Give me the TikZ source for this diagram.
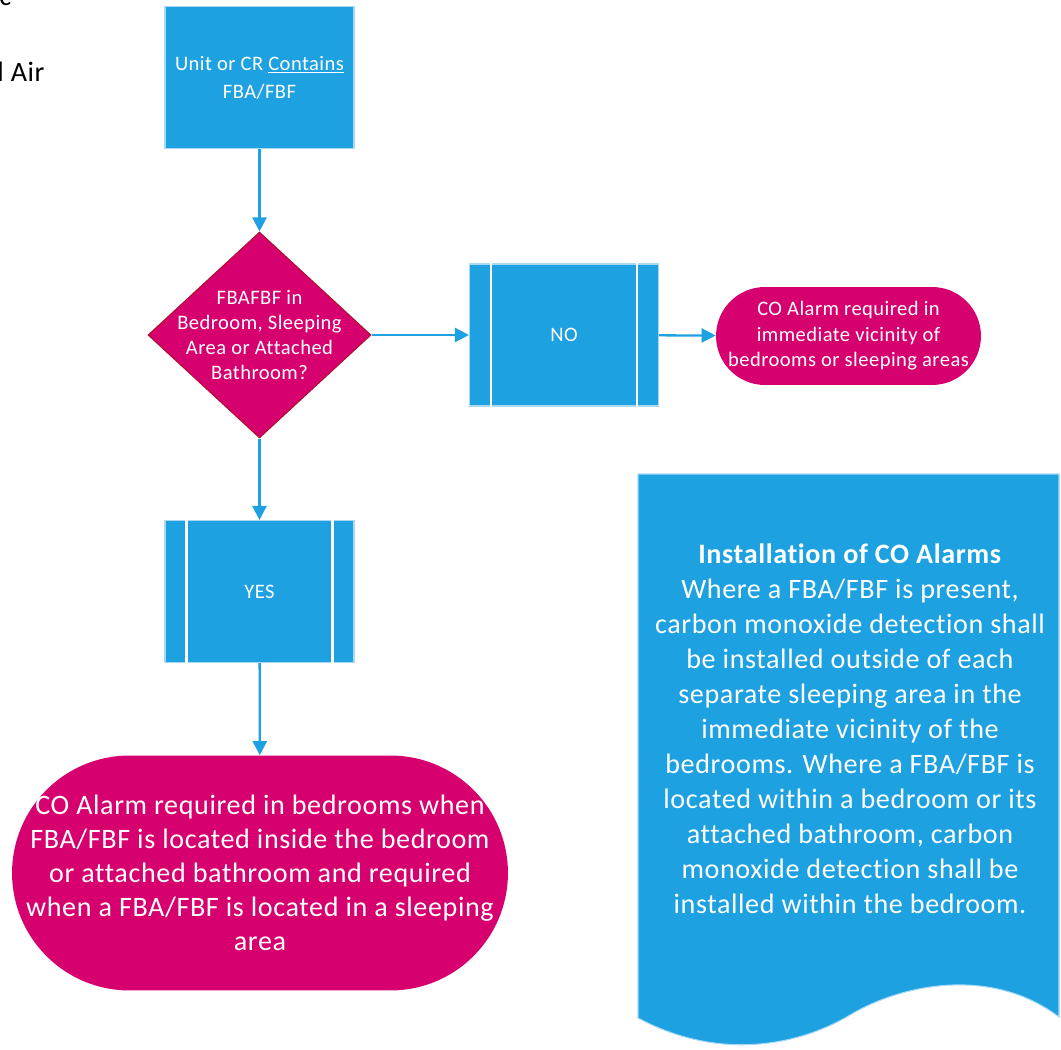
\documentclass[tikz,border=0pt]{standalone}
\usepackage{fontspec}
\setmainfont{Carlito}[LetterSpace=2.2,Ligatures=NoCommon]
\usepackage{xcolor}
\usepackage{tikz}
\usetikzlibrary{shapes.geometric,arrows.meta,calc}
\definecolor{flowblue}{HTML}{1DA1E1}
\definecolor{flowpink}{HTML}{D6006F}
\definecolor{flowred}{HTML}{B0102C}
\definecolor{flowedge}{HTML}{A8D8F2}

\begin{document}
\begin{tikzpicture}[x=0.02cm,y=-0.02cm,
	box/.style={rectangle,fill=flowblue,draw=flowedge,line width=0.6pt,text=white,minimum width=3.78cm,minimum height=2.84cm,inner sep=0pt,align=center,font=\fontsize{11.7}{15.9}\selectfont},
	decision/.style={diamond,fill=flowpink,draw=flowred,line width=0.6pt,minimum width=4.46cm,minimum height=4.12cm,inner sep=0pt},
	smalltext/.style={text=white,align=center,inner sep=0pt,font=\fontsize{11.7}{14.3}\selectfont},
	terminal/.style={rectangle,fill=flowpink,text=white,align=center,inner sep=0pt},
	bigtext/.style={text=white,align=center,inner sep=0pt,font=\fontsize{16}{19.9}\selectfont},
	flow/.style={-{Triangle[length=8pt,width=8pt]},flowblue,line width=1.3pt}]
	\useasboundingbox (0,0) rectangle (1061,1050);
	% text cut off at the page edge
	\node[anchor=base west,inner sep=0pt,font=\fontsize{16}{19.6}\selectfont] (cuttop) at (-1,6) {c};
	\node[anchor=base west,inner sep=0pt,font=\fontsize{16}{19.6}\selectfont] (cutair) at (-3,82) {l Air};
	% flow chart
	\node[box] (unit) at (259.5,77.5) {Unit or CR \underline{Contains}\\FBA/FBF};
	\node[decision,label={[smalltext]center:{FBAFBF in\\Bedroom, Sleeping\\Area or Attached\\Bathroom?}}] (fba) at (259.5,335) {};
	\node[box] (no) at (564,335) {NO};
	\node[box] (yes) at (259.5,591.5) {YES};
	\node[terminal,minimum width=5.3cm,minimum height=1.96cm,rounded corners=0.98cm,font=\fontsize{11.7}{14.5}\selectfont] (vicinity) at (848.5,336) {CO Alarm required in\\immediate vicinity of\\bedrooms or sleeping areas};
	\node[terminal,minimum width=9.92cm,minimum height=4.7cm,rounded corners=2.35cm,font=\fontsize{16}{19.4}\selectfont] (inbed) at (260,873) {CO Alarm required in bedrooms when\\FBA/FBF is located inside the bedroom\\or attached bathroom and required\\when a FBA/FBF is located in a sleeping\\area};
	\foreach \b in {no,yes}{
		\draw[white,line width=1.2pt] ($(\b.north west)+(22,0)$) -- ($(\b.south west)+(22,0)$);
		\draw[white,line width=1.2pt] ($(\b.north east)+(-22,0)$) -- ($(\b.south east)+(-22,0)$);
	}
	\draw[flow] (unit) -- (fba);
	\draw[flow] (fba) -- (no);
	\draw[flow] (no) -- (vicinity);
	\draw[flow] (fba) -- (yes);
	\draw[flow] (yes) -- (inbed);
	% note with wavy bottom
	\filldraw[fill=flowblue,draw=flowedge,line width=0.6pt] (638,474) -- (1059,474) -- (1059,1017) .. controls (990,965) and (900,985) .. (850,1015) .. controls (800,1045) and (720,1062) .. (638,1018) -- cycle;
	\node[bigtext] (install) at (850,729) {\textbf{Installation of CO Alarms}\\Where a FBA/FBF is present,\\carbon monoxide detection shall\\be installed outside of each\\separate sleeping area in the\\immediate vicinity of the\\bedrooms. Where a FBA/FBF is\\located within a bedroom or its\\attached bathroom, carbon\\monoxide detection shall be\\installed within the bedroom.};
\end{tikzpicture}
\end{document}
